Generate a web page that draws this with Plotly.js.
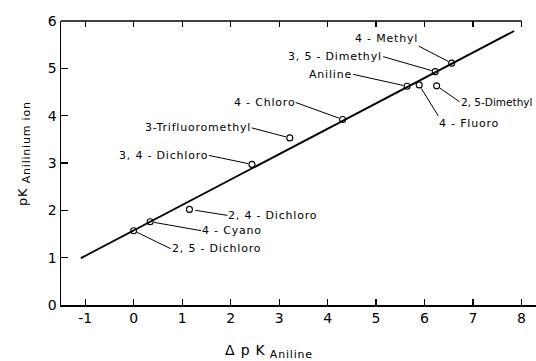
<!DOCTYPE html>
<html><head><meta charset="utf-8">
<script src="https://cdn.plot.ly/plotly-3.0.1.min.js"></script>
<style>
html,body{margin:0;padding:0;background:#fff}
#chart{width:536px;height:361px}
text.annotation-text{letter-spacing:0.8px}
</style>
</head><body><div id="chart"></div>
<script>
// ---- data ----
const substituents = ["2, 5 - Dichloro", "4 - Cyano", "2, 4 - Dichloro", "3, 4 - Dichloro",
  "3-Trifluoromethyl", "4 - Chloro", "Aniline", "4 - Fluoro", "2, 5-Dimethyl",
  "3, 5 - Dimethyl", "4 - Methyl"];
const deltaPK = [0.00, 0.34, 1.15, 2.44, 3.22, 4.31, 5.64, 5.89, 6.25, 6.22, 6.56];
const pKion   = [1.57, 1.76, 2.02, 2.97, 3.53, 3.92, 4.62, 4.65, 4.63, 4.93, 5.11];
const fitX = [-1.09, 7.85];
const fitY = [0.99, 5.79];
const xTicks = [-1, 0, 1, 2, 3, 4, 5, 6, 7, 8];
const xTickLabels = ["-1", "0", "1", "2", "3", "4", "5", "6", "7", "8"];
const yTicks = [0, 1, 2, 3, 4, 5, 6];

// ---- label placement (pixel offset of label anchor from its point) ----
const placement = [
  {ax: 37, ay: 18, xa: 'left', ya: 'middle', so: 4},
  {ax: 51, ay: 9, xa: 'left', ya: 'middle', so: 4},
  {ax: 38, ay: 6, xa: 'left', ya: 'middle', so: 6},
  {ax: -43, ay: -9, xa: 'right', ya: 'middle', so: 4},
  {ax: -38, ay: -10, xa: 'right', ya: 'middle', so: 4},
  {ax: -47, ay: -17, xa: 'right', ya: 'middle', so: 4},
  {ax: -54, ay: -12, xa: 'right', ya: 'middle', so: 4},
  {ax: 19, ay: 31, xa: 'left', ya: 'top', so: 4},
  {ax: 23, ay: 16, xa: 'left', ya: 'middle', so: 4, ls: 0, fs: 10.5},
  {ax: -52, ay: -15, xa: 'right', ya: 'middle', so: 4},
  {ax: -33, ay: -17, xa: 'right', ya: 'bottom', so: 4}
];

const FONT = 'DejaVu Sans, sans-serif';
const xRange = [-1.5, 8.3];
const yRange = [0, 6];

const traces = [
  {x: fitX, y: fitY, mode: 'lines', line: {color: '#000', width: 1.8},
   hoverinfo: 'skip', showlegend: false},
  {x: deltaPK, y: pKion, mode: 'markers', text: substituents,
   marker: {symbol: 'circle-open', size: 6, color: '#000', line: {width: 1.1, color: '#000'}},
   showlegend: false, cliponaxis: false},
  {x: [], y: [], xaxis: 'x2', yaxis: 'y', showlegend: false, hoverinfo: 'skip'}
];

const annotations = substituents.map((name, i) => ({
  x: deltaPK[i], y: pKion[i], xref: 'x', yref: 'y',
  text: placement[i].ls !== undefined
    ? "<span style='letter-spacing:" + placement[i].ls + "px'>" + name + "</span>" : name,
  showarrow: true, arrowhead: 0, arrowwidth: 1, arrowcolor: '#000',
  ax: placement[i].ax, ay: placement[i].ay,
  xanchor: placement[i].xa, yanchor: placement[i].ya,
  standoff: placement[i].so, borderpad: 0,
  font: {family: FONT, size: placement[i].fs || 11, color: '#000'}
}));

annotations.push({
  xref: 'paper', yref: 'paper', x: (24 - 61) / 475, y: (305 - 154) / 284,
  text: "pK<sub><span style='font-size:11px'> Anilinium ion</span></sub>",
  textangle: -90, showarrow: false, xanchor: 'center', yanchor: 'middle',
  font: {family: FONT, size: 13, color: '#000'}
});
annotations.push({
  xref: 'paper', yref: 'paper', x: (269 - 61) / 475, y: (305 - 351) / 284,
  text: "Δ p K<sub><span style='font-size:11px'> Aniline</span></sub>",
  showarrow: false, xanchor: 'center', yanchor: 'middle',
  font: {family: FONT, size: 14, color: '#000'}
});

const layout = {
  width: 536, height: 361,
  margin: {l: 61, r: 0, t: 21, b: 56, pad: 0},
  paper_bgcolor: '#fff', plot_bgcolor: '#fff',
  font: {family: FONT, color: '#000'},
  xaxis: {range: xRange, tickvals: xTicks, ticktext: xTickLabels, ticks: 'inside', ticklen: 6,
    tickwidth: 1.2, tickcolor: '#000', showline: true, linecolor: '#000', linewidth: 1.5,
    showgrid: false, zeroline: false, tickfont: {family: FONT, size: 14, color: '#000'}},
  xaxis2: {range: xRange, overlaying: 'x', side: 'top', anchor: 'y', tickvals: xTicks,
    ticks: 'inside', ticklen: 6, tickwidth: 1.2, tickcolor: '#000', showticklabels: false,
    showline: false, showgrid: false, zeroline: false},
  yaxis: {range: yRange, tickvals: yTicks, ticks: 'inside', ticklen: 7, tickwidth: 1.2,
    tickcolor: '#000', showline: true, linecolor: '#000', linewidth: 1.5,
    showgrid: false, zeroline: false, tickfont: {family: FONT, size: 14, color: '#000'}},
  shapes: [{type: 'line', xref: 'paper', yref: 'paper', x0: 0,
    x1: (8 - xRange[0]) / (xRange[1] - xRange[0]), y0: 1, y1: 1,
    line: {color: '#000', width: 1.5}}],
  annotations: annotations
};

Plotly.newPlot('chart', traces, layout, {staticPlot: true, displayModeBar: false});
</script>
</body></html>
